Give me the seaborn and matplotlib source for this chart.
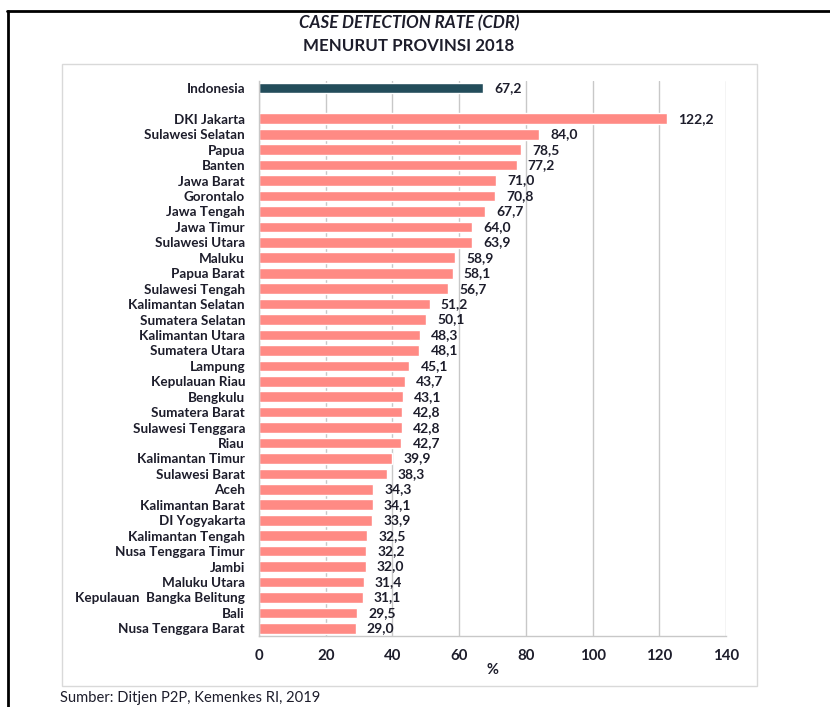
import matplotlib
matplotlib.use("Agg")
import matplotlib.pyplot as plt
from matplotlib.lines import Line2D
from matplotlib.patches import Rectangle
import seaborn as sns
import pandas as pd

provinces = ["Indonesia", "DKI Jakarta", "Sulawesi Selatan", "Papua", "Banten", "Jawa Barat",
             "Gorontalo", "Jawa Tengah", "Jawa Timur", "Sulawesi Utara", "Maluku",
             "Papua Barat", "Sulawesi Tengah", "Kalimantan Selatan", "Sumatera Selatan",
             "Kalimantan Utara", "Sumatera Utara", "Lampung", "Kepulauan Riau", "Bengkulu",
             "Sumatera Barat", "Sulawesi Tenggara", "Riau", "Kalimantan Timur",
             "Sulawesi Barat", "Aceh", "Kalimantan Barat", "DI Yogyakarta",
             "Kalimantan Tengah", "Nusa Tenggara Timur", "Jambi", "Maluku Utara",
             "Kepulauan  Bangka Belitung", "Bali", "Nusa Tenggara Barat"]
cdr = [67.2, 122.2, 84.0, 78.5, 77.2, 71.0, 70.8, 67.7, 64.0, 63.9, 58.9, 58.1, 56.7,
       51.2, 50.1, 48.3, 48.1, 45.1, 43.7, 43.1, 42.8, 42.8, 42.7, 39.9, 38.3, 34.3,
       34.1, 33.9, 32.5, 32.2, 32.0, 31.4, 31.1, 29.5, 29.0]
groups = ["nasional"] + ["provinsi"] * (len(provinces) - 1)
x_ticks = [0, 20, 40, 60, 80, 100, 120, 140]

title1 = "CASE DETECTION RATE (CDR)"
title2 = "MENURUT PROVINSI 2018"
source = "Sumber: Ditjen P2P, Kemenkes RI, 2019"

df = pd.DataFrame({"prov": provinces, "cdr": cdr, "grp": groups})
order = [provinces[0], " "] + provinces[1:]
palette = {"nasional": "#234d5b", "provinsi": "#ff8a84"}

sns.set_style("white")
plt.rcParams["font.family"] = ["Lato", "DejaVu Sans"]
txt = "#1d1d2b"

fig = plt.figure(figsize=(8.3, 7.07), dpi=100)
W, H = 830, 707
ax = fig.add_axes([259 / W, 1 - 636 / H, (726 - 259) / W, (636 - 81) / H])

sns.barplot(data=df, y="prov", x="cdr", hue="grp", order=order, palette=palette,
            dodge=False, legend=False, width=0.69, ax=ax, orient="h", saturation=1)

ax.set_xlim(0, 140)
ax.set_ylim(len(order) - 0.5, -0.45)
ax.set_xticks(x_ticks)
ax.set_xticklabels([str(t) for t in x_ticks], fontsize=10.8, fontweight="bold", color=txt)
ax.tick_params(axis="x", length=0, pad=9)
ax.tick_params(axis="y", length=0, pad=10)
for lab in ax.get_yticklabels():
    lab.set_fontsize(9.7)
    lab.set_fontweight("bold")
    lab.set_color(txt)
ax.set_ylabel("")
ax.set_xlabel("%", fontsize=10.5, fontweight="bold", color=txt, labelpad=0)
ax.grid(axis="x", color="#c8c8c8", lw=1)
ax.set_axisbelow(True)
for s in ["top", "right"]:
    ax.spines[s].set_visible(False)
for s in ["left", "bottom"]:
    ax.spines[s].set_color("#c8c8c8")
    ax.spines[s].set_linewidth(1)

for cont in ax.containers:
    labels = []
    for bar in cont:
        w = bar.get_width()
        labels.append(f"{w:.1f}".replace(".", ",") if w == w and w > 0 else "")
    ax.bar_label(cont, labels=labels, padding=8, fontsize=10, fontweight="bold", color=txt)

# frames
fig.add_artist(Rectangle((62 / W, 1 - 686 / H), (757 - 62) / W, (686 - 64) / H,
                         transform=fig.transFigure, fill=False, edgecolor="#d9d9d9", lw=1))
fig.add_artist(Line2D([7.5 / W, 7.5 / W], [0, 1 - 10.5 / H], transform=fig.transFigure,
                      color="black", lw=2))
fig.add_artist(Line2D([6.5 / W, 1], [1 - 10.5 / H, 1 - 10.5 / H], transform=fig.transFigure,
                      color="black", lw=2))

fig.text(409 / W, 1 - 23 / H, title1, ha="center", va="center", fontsize=12.2,
         fontweight="bold", fontstyle="italic", color=txt)
fig.text(409 / W, 1 - 46 / H, title2, ha="center", va="center", fontsize=12.2,
         fontweight="bold", color=txt)
fig.text(60 / W, 1 - 698 / H, source, ha="left", va="center", fontsize=10.6, color=txt)

fig.savefig("out.png", dpi=100)
